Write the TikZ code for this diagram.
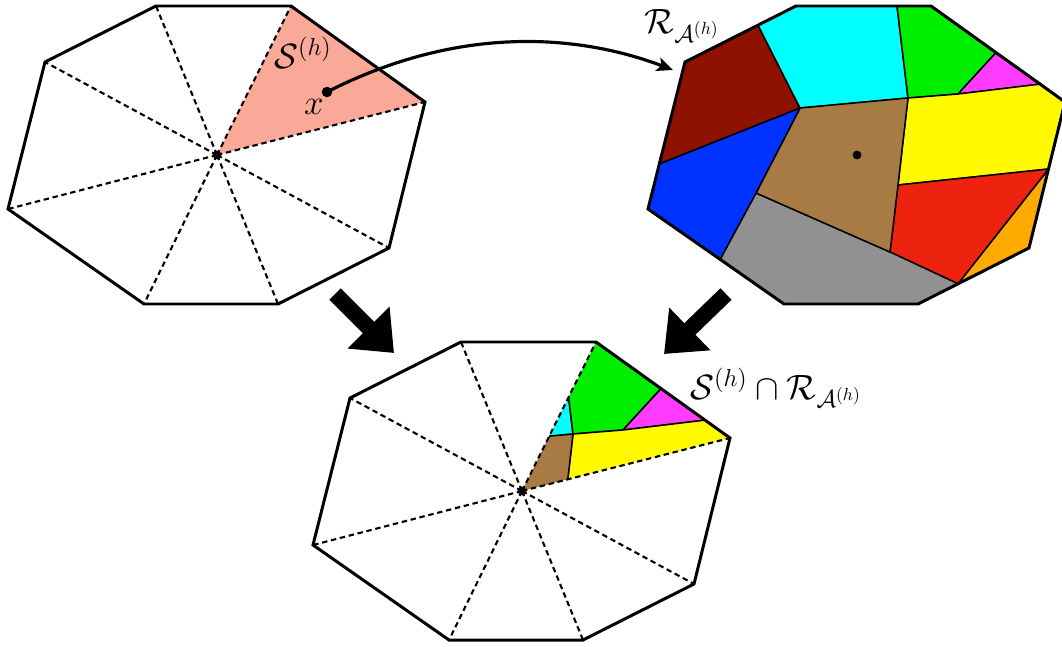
\documentclass[tikz,border=0pt]{standalone}
\usepackage{fix-cm}
\usetikzlibrary{arrows.meta}
\definecolor{pinkS}{RGB}{250,168,152}
\definecolor{cDarkred}{RGB}{143,17,0}
\definecolor{cCyan}{RGB}{0,255,255}
\definecolor{cGreen}{RGB}{0,238,0}
\definecolor{cMagenta}{RGB}{255,60,255}
\definecolor{cYellow}{RGB}{255,250,0}
\definecolor{cBrown}{RGB}{168,122,68}
\definecolor{cBlue}{RGB}{0,51,255}
\definecolor{cRed}{RGB}{238,35,15}
\definecolor{cOrange}{RGB}{255,170,0}
\definecolor{cGray}{RGB}{145,145,145}
\newcommand\octcoords[1]{%
  \coordinate (#1c) at (217,155);
  \coordinate (#1v1) at (156,6);
  \coordinate (#1v2) at (291,6);
  \coordinate (#1v3) at (425,102);
  \coordinate (#1v4) at (389,248);
  \coordinate (#1v5) at (278,304);
  \coordinate (#1v6) at (144,304);
  \coordinate (#1v7) at (8,209);
  \coordinate (#1v8) at (45,62);
  \coordinate (#1a) at (118,25.2);
  \coordinate (#1b) at (160,108);
  \coordinate (#1d) at (257,6);
  \coordinate (#1e) at (268,98);
  \coordinate (#1f) at (356,52.6);
  \coordinate (#1g) at (318,94);
  \coordinate (#1h) at (401,84);
  \coordinate (#1i) at (408.5,169);
  \coordinate (#1j) at (258,185);
  \coordinate (#1k) at (318,283.8);
  \coordinate (#1l) at (250,252);
  \coordinate (#1m) at (80.1,259.4);
  \coordinate (#1n) at (116,193);
  \coordinate (#1o) at (19.3,164);
}
\newcommand\vorcells[1]{%
  \filldraw[cell,fill=cDarkred] (#1v8)--(#1a)--(#1b)--(#1o)--cycle;
  \filldraw[cell,fill=cCyan] (#1v1)--(#1d)--(#1e)--(#1b)--(#1a)--cycle;
  \filldraw[cell,fill=cGreen] (#1d)--(#1v2)--(#1f)--(#1g)--(#1e)--cycle;
  \filldraw[cell,fill=cMagenta] (#1f)--(#1h)--(#1g)--cycle;
  \filldraw[cell,fill=cYellow] (#1e)--(#1g)--(#1h)--(#1v3)--(#1i)--(#1j)--cycle;
  \filldraw[cell,fill=cOrange] (#1i)--(#1v4)--(#1k)--cycle;
  \filldraw[cell,fill=cRed] (#1j)--(#1i)--(#1k)--(#1l)--cycle;
  \filldraw[cell,fill=cGray] (#1l)--(#1k)--(#1v5)--(#1v6)--(#1m)--(#1n)--cycle;
  \filldraw[cell,fill=cBrown] (#1b)--(#1e)--(#1j)--(#1l)--(#1n)--cycle;
  \filldraw[cell,fill=cBlue] (#1b)--(#1n)--(#1m)--(#1v7)--(#1o)--cycle;
}
\newcommand\octdraw[1]{%
  \draw[oct] (#1v1)--(#1v2)--(#1v3)--(#1v4)--(#1v5)--(#1v6)--(#1v7)--(#1v8)--cycle;
}
\newcommand\octspokes[1]{%
  \foreach \k in {1,...,8} {\draw[dsh] (#1c)--(#1v\k);}
}
\begin{document}
\begin{tikzpicture}[x=0.02cm,y=-0.02cm,
  font=\fontsize{20}{24}\selectfont,
  lbl/.style={inner sep=0pt},
  oct/.style={line width=1.7pt},
  cell/.style={line width=0.85pt,line join=round},
  dsh/.style={line width=1.2pt,dash pattern=on 3.1pt off 2.1pt},
  dotc/.style={circle,fill=black,inner sep=0pt,minimum size=#1},
  curvearrow/.style={line width=1.8pt,-{Stealth[length=0.32cm,width=0.28cm,inset=0.07cm]}},
  bigarrow/.style={line width=0.32cm,-{Triangle[length=0.72cm,width=1.14cm]}}]
\useasboundingbox (0,0) rectangle (1062,646);
% left octagon
\begin{scope}
  \octcoords{L}
  \fill[pinkS] (Lc)--(Lv2)--(Lv3)--cycle;
  \octspokes{L}
  \octdraw{L}
  \node[dotc=5pt] (Lcdot) at (Lc) {};
\end{scope}
% right octagon
\begin{scope}[shift={(640,0)}]
  \octcoords{R}
  \vorcells{R}
  \octdraw{R}
  \node[dotc=5pt] (Rcdot) at (Rc) {};
\end{scope}
% bottom octagon
\begin{scope}[shift={(305,336)}]
  \octcoords{B}
  \begin{scope}
    \clip (Bc)--(Bv2)--(Bv3)--cycle;
    \vorcells{B}
  \end{scope}
  \octspokes{B}
  \octdraw{B}
  \node[dotc=5pt] (Bcdot) at (Bc) {};
\end{scope}
% labels
\node[lbl] (slab) at (303,53) {$\mathcal{S}^{(h)}$};
\node[lbl] (xlab) at (314,107) {$x$};
\node[lbl] (rlab) at (682,26) {$\mathcal{R}_{\mathcal{A}^{(h)}}$};
\node[lbl] (blab) at (776,388) {$\mathcal{S}^{(h)}\cap\mathcal{R}_{\mathcal{A}^{(h)}}$};
% curved arrow
\node[dotc=6pt] (xdot) at (327,92) {};
\coordinate (rtip) at (673,70);
\draw[curvearrow] (xdot.center) .. controls (478,15) and (602,43) .. (rtip);
% big arrows
\coordinate (la1) at (335,294);
\coordinate (la2) at (394,353);
\coordinate (ra1) at (726,294);
\coordinate (ra2) at (664,354);
\draw[bigarrow] (la1) -- (la2);
\draw[bigarrow] (ra1) -- (ra2);
\end{tikzpicture}
\end{document}
